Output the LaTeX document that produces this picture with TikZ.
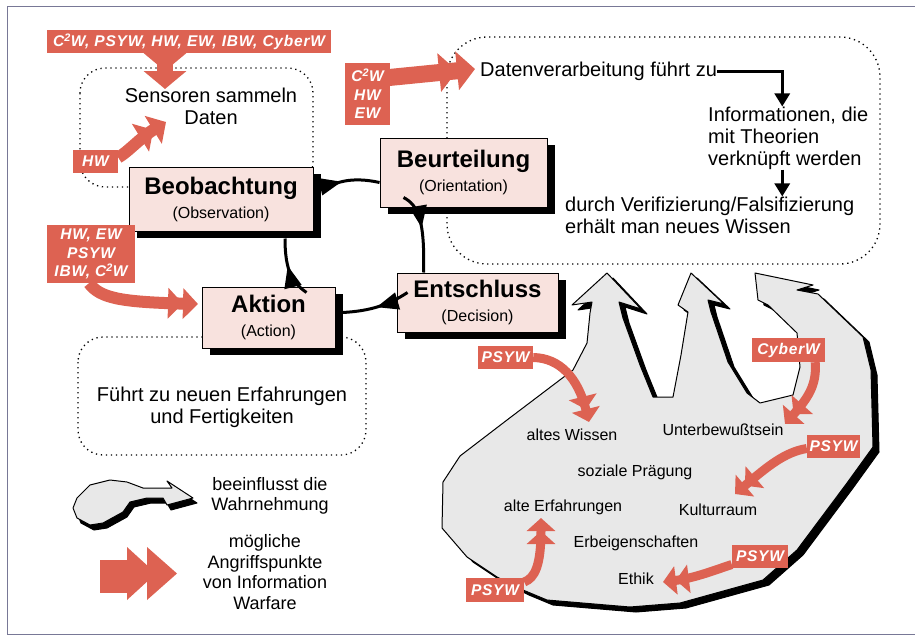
\documentclass[tikz,border=0pt]{standalone}
\usepackage{fontspec}
\setmainfont{Liberation Sans}
\newfontfamily\tagfont[LetterSpace=5]{Liberation Sans}
\usetikzlibrary{arrows.meta,shadows,decorations.markings}

\definecolor{iwred}{RGB}{221,98,82}
\definecolor{iwpink}{RGB}{248,226,222}
\definecolor{blobgray}{RGB}{232,232,232}
\definecolor{framegray}{RGB}{120,120,150}

\newcommand\oodatext[2]{{\fontsize{24}{24}\selectfont\bfseries #1}\\{\fontsize{16}{24}\selectfont #2}}

\tikzset{
  box/.style={draw, line width=1pt, fill=iwpink, align=center, inner sep=0pt,
    font=\fontsize{16}{24}\selectfont,
    drop shadow={shadow xshift=8pt, shadow yshift=-7pt, fill=black, opacity=1}},
  zone/.style={line width=1.3pt, dash pattern=on 1.3pt off 3.7pt, rounded corners=#1},
  zone/.default=25pt,
  txt/.style={font=\fontsize{20}{22}\selectfont, inner sep=0pt},
  legtxt/.style={font=\fontsize{18}{20.5}\selectfont, inner sep=0pt, align=center},
  blobtxt/.style={font=\fontsize{16}{18}\selectfont, inner sep=0pt},
  tag/.style={fill=iwred, text=white, align=center, inner sep=0pt,
    font=\tagfont\fontsize{15.5}{18.5}\selectfont\bfseries\itshape},
  angriff/.style n args={3}{draw=iwred, line width=#1,
    -{Triangle[width=#2,length=#3]Triangle[width=#2,length=#3]}},
  blobarrow/.style={angriff={9pt}{28pt}{13pt}},
  flow/.style={line width=3pt, -{Triangle[width=15pt,length=13pt]}},
  cyc/.style={line width=3pt, postaction={decorate},
    decoration={markings, mark=at position #1 with {\arrow{Triangle[width=17pt,length=22pt]}}}},
  cyc/.default=0.5,
  blobshade/.style={fill=black, draw=black, line width=1pt, line join=round},
  blobbody/.style={fill=blobgray, draw=black, line width=1pt, line join=round},
}

\begin{document}
\begin{tikzpicture}[x=1pt, y=-1pt]
  \useasboundingbox (0,0) rectangle (915,637);
  \draw[framegray, line width=1pt] (915,6) -- (7,6) -- (7,634) -- (915,634);

  % dotted areas
  \draw[zone] (80,68) rectangle (313,187);
  \draw[zone=40pt] (447,37) rectangle (880,264);
  \draw[zone] (78,337) rectangle (366,455);

  \node[txt, align=center] (sensor) at (211,106) {Sensoren sammeln\\Daten};
  \node[txt, anchor=west] (daten) at (480,71) {Datenverarbeitung führt zu};
  \node[txt, align=left, anchor=west] (info) at (708,138) {Informationen, die\\mit Theorien\\verknüpft werden};
  \node[txt, align=left, anchor=west] (wissen) at (565,215) {durch Verifizierung/Falsifizierung\\erhält man neues Wissen};
  \node[txt, align=center] (erfahr) at (222,407) {Führt zu neuen Erfahrungen\\und Fertigkeiten};

  \draw[flow] (daten.east) -- ++(4,0) -| ([xshift=-6pt]info.north);
  \coordinate (infobend) at ([xshift=-6pt]info.south);
  \draw[flow] (infobend) -- (infobend |- wissen.north);

  % perception blob
  \foreach \dx/\dy/\look in {6/5/blobshade, 0/0/blobbody}
    \filldraw[\look, shift={(\dx,\dy)}] (607,273) -- (641,309) -- (619,302) -- (623,318)
      -- (640,365) -- (653,397) -- (673,397) -- (681,355) -- (688,312) -- (678,305)
      -- (691,273) -- (724,304) -- (708,300) -- (711,312) -- (728,362) -- (747,393)
      -- (760,403) -- (793,395) -- (800,367) -- (797,333) -- (768,305) -- (758,300)
      -- (755,273) -- (813,285) -- (797,290) -- (818,294) -- (863,337) -- (871,370)
      -- (873,447) -- (847,483) -- (797,550) -- (763,580) -- (680,603) -- (630,607)
      -- (547,600) -- (523,590) -- (497,577) -- (467,557) -- (442,528) -- (443,482)
      -- (460,456) -- (507,420) -- (573,370) -- (587,343) -- (590,313) -- (592,302)
      -- (572,305) -- cycle;

  \node[blobtxt] (altwissen) at (572,435) {altes Wissen};
  \node[blobtxt] (unterb) at (723,430) {Unterbewußtsein};
  \node[blobtxt] (sozial) at (635,472) {soziale Prägung};
  \node[blobtxt] (alterf) at (563,507) {alte Erfahrungen};
  \node[blobtxt] (kultur) at (718,510) {Kulturraum};
  \node[blobtxt] (erbe) at (636,543) {Erbeigenschaften};
  \node[blobtxt] (ethik) at (636,579) {Ethik};

  % OODA boxes
  \node[box, minimum width=184pt, minimum height=64pt] (beob) at (221,199) {\oodatext{Beobachtung}{(Observation)}};
  \node[box, minimum width=167pt, minimum height=69pt] (beurt) at (463.5,172.5) {\oodatext{Beurteilung}{(Orientation)}};
  \node[box, minimum width=161pt, minimum height=59pt] (entsch) at (477.5,302.5) {\oodatext{Entschluss}{(Decision)}};
  \node[box, minimum width=133pt, minimum height=61pt] (aktion) at (268.5,317.5) {\oodatext{Aktion}{(Action)}};

  \draw[cyc=0.35] ([xshift=9pt,yshift=10pt]beob.east) .. controls (335,183) and (350,176) .. ([yshift=-10pt]beurt.west);
  \draw[cyc=0.45] ([xshift=-60pt,yshift=-25pt]beurt.center) .. controls (418,205) and (425,220) .. ([xshift=-54pt]entsch.north);
  \draw[cyc=0.5] ([xshift=11pt,yshift=10pt]entsch.west) .. controls (390,304) and (372,311) .. ([xshift=7pt,yshift=5pt]aktion.east);
  \draw[cyc=0.55] ([xshift=38pt,yshift=-6pt]aktion.north) .. controls (293,283) and (285,272) .. ([xshift=64pt,yshift=-7pt]beob.south);

  % attack points
  \node[tag, minimum width=284pt, minimum height=23pt] (alltag) at (189,41.5) {C\textsuperscript{2}W, PSYW, HW, EW, IBW, CyberW};
  \node[tag, minimum width=45pt, minimum height=23pt] (hwtag) at (95.5,161.5) {HW};
  \node[tag, minimum width=45pt, minimum height=62pt] (c2tag) at (367.5,94) {C\textsuperscript{2}W\\HW\\EW};
  \node[tag, minimum width=88pt, minimum height=58pt] (mixtag) at (91,254) {HW, EW\\PSYW\\IBW, C\textsuperscript{2}W};
  \node[tag, minimum width=55pt, minimum height=23pt] (psyA) at (505.5,357.5) {PSYW};
  \node[tag, minimum width=73pt, minimum height=24pt] (cyber) at (788.5,350) {CyberW};
  \node[tag, minimum width=53pt, minimum height=23pt] (psyB) at (833.5,446.5) {PSYW};
  \node[tag, minimum width=56pt, minimum height=23pt] (psyC) at (760,556.5) {PSYW};
  \node[tag, minimum width=58pt, minimum height=24pt] (psyD) at (495,590) {PSYW};

  \coordinate (sensortip) at (165,89);
  \coordinate (hwtip) at (166,122);
  \coordinate (datentip) at (475,69);
  \coordinate (aktiontip) at (198,304);
  \coordinate (wissentip) at (589,422);
  \coordinate (unterbtip) at (785,424);
  \coordinate (kulturtip) at (735,494);
  \coordinate (ethiktip) at (663,582);
  \coordinate (erfahrtip) at (541,518);

  \draw[angriff={16pt}{42pt}{18pt}] (alltag.south -| sensortip) -- (sensortip);
  \draw[angriff={12pt}{32pt}{15pt}] ([yshift=4pt]hwtag.east) .. controls (128,152) and (140,138) .. (hwtip);
  \draw[angriff={17pt}{38pt}{18pt}] ([xshift=-4pt,yshift=-15pt]c2tag.north east) -- (datentip);
  \draw[angriff={12pt}{30pt}{15pt}] ([xshift=-2pt]mixtag.south) .. controls (100,298) and (120,302) .. (aktiontip);
  \draw[blobarrow] (psyA.east) .. controls (560,358) and (578,378) .. (wissentip);
  \draw[blobarrow] ([xshift=-10pt]cyber.south east) .. controls (817,385) and (808,398) .. (unterbtip);
  \draw[blobarrow] ([yshift=-2pt]psyB.west) .. controls (785,452) and (768,466) .. (kulturtip);
  \draw[blobarrow] ([yshift=-8pt]psyC.west) .. controls (715,570) and (695,578) .. (ethiktip);
  \draw[blobarrow] ([yshift=8pt]psyD.east) .. controls (535,578) and (541,565) .. (erfahrtip);

  % legend
  \foreach \dx/\dy/\look in {4/5/blobshade, 0/0/blobbody}
    \filldraw[\look, shift={(\dx,\dy)}] (193,498) -- (167,481) -- (172,488) -- (143,488)
      -- (127,482) -- (110,480) -- (90,485) -- (77,498) -- (73,508) -- (77,518)
      -- (90,525) -- (103,523) -- (123,512) -- (130,502) -- (147,498) -- (163,498)
      -- (167,505) -- cycle;
  \node[legtxt] (legblob) at (270,496) {beeinflusst die\\Wahrnehmung};

  \fill[iwred] (100,560) rectangle (130,593);
  \fill[iwred] (127,547) -- (156,573.5) -- (127,600) -- cycle;
  \fill[iwred] (147,547) -- (177,573.5) -- (147,600) -- cycle;
  \node[legtxt] (legred) at (265,572) {mögliche\\Angriffspunkte\\von Information\\Warfare};
\end{tikzpicture}
\end{document}
